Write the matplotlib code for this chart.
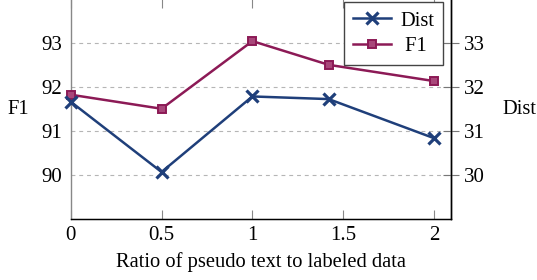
import matplotlib
matplotlib.use("Agg")
import matplotlib.pyplot as plt
from matplotlib.lines import Line2D

plt.rcParams['font.family'] = ['Liberation Serif', 'DejaVu Serif']
plt.rcParams['mathtext.fontset'] = 'stix'

ratio = [0, 0.5, 1, 1.42, 2]
f1 = [91.83, 91.51, 93.05, 92.51, 92.14]
dist = [31.67, 30.07, 31.79, 31.73, 30.84]
xticks = [0, 0.5, 1, 1.5, 2]
f1_ticks = [90, 91, 92, 93]
dist_ticks = [30, 31, 32, 33]

blue = '#1f3f7a'
purple = '#8c1a56'
purple_fill = '#a8477a'

fig = plt.figure(figsize=(5.37, 2.8), dpi=100)
ax = fig.add_axes([70.7/537, 1-219/280, (451.3-70.7)/537, 220.5/280])
ax.set_xlim(0, 2.095)
ax.set_ylim(89, 94.02)
ax.set_xticks(xticks)
ax.set_xticklabels(['0', '0.5', '1', '1.5', '2'])
ax.set_yticks(f1_ticks)
ax.tick_params(axis='x', direction='in', length=6.5, color='#888888', top=True,
               labelsize=15, pad=5)
ax.tick_params(axis='y', length=0, labelsize=15, pad=6)
ax.grid(axis='y', linestyle=(0, (3.5, 3.5)), color='#b5b5b5', linewidth=0.8)
ax.spines['left'].set_color('#888888')
ax.spines['top'].set_color('#888888')
for s in ax.spines.values():
    s.set_linewidth(1.0)

ax.plot(ratio, f1, color=purple, marker='s', markersize=5.8, linewidth=1.8,
        markeredgewidth=1.4, markerfacecolor=purple_fill, markeredgecolor=purple,
        zorder=3, clip_on=False)

ax2 = ax.twinx()
ax2.set_ylim(29, 34.02)
ax2.set_yticks(dist_ticks)
ax2.tick_params(axis='y', direction='inout', length=12, color='#777777',
                labelsize=15, pad=3)
ax2.spines['right'].set_linewidth(1.0)
ax2.spines['left'].set_visible(False)
ax2.spines['top'].set_visible(False)
ax2.plot(ratio, dist, color=blue, marker='x', markersize=8.5, linewidth=1.8,
         markeredgewidth=2.3, zorder=3, clip_on=False)

ax.set_xlabel('Ratio of pseudo text to labeled data', fontsize=14.8, labelpad=5.5)
fig.text(18/537, 1-110/280, 'F1', fontsize=14.8, ha='center', va='center')
fig.text(519/537, 1-110/280, 'Dist', fontsize=14.8, ha='center', va='center')

handles = [
    Line2D([], [], color=blue, marker='x', markersize=8.5, linewidth=1.8, markeredgewidth=2.3),
    Line2D([], [], color=purple, marker='s', markersize=5.8, linewidth=1.8,
           markeredgewidth=1.4, markerfacecolor=purple_fill, markeredgecolor=purple),
]
leg = ax2.legend(handles, ['Dist', ' F1'], loc='upper right',
                 bbox_to_anchor=(443.3/537, 1-2/280), bbox_transform=fig.transFigure,
                 fontsize=14.8, frameon=True, fancybox=False, handlelength=1.85,
                 handletextpad=0.45, borderpad=0.45, labelspacing=0.28,
                 borderaxespad=0)
leg.get_frame().set_edgecolor('#444444')
leg.get_frame().set_linewidth(1.0)
leg.get_frame().set_alpha(1)

fig.savefig('out.png', dpi=100)
